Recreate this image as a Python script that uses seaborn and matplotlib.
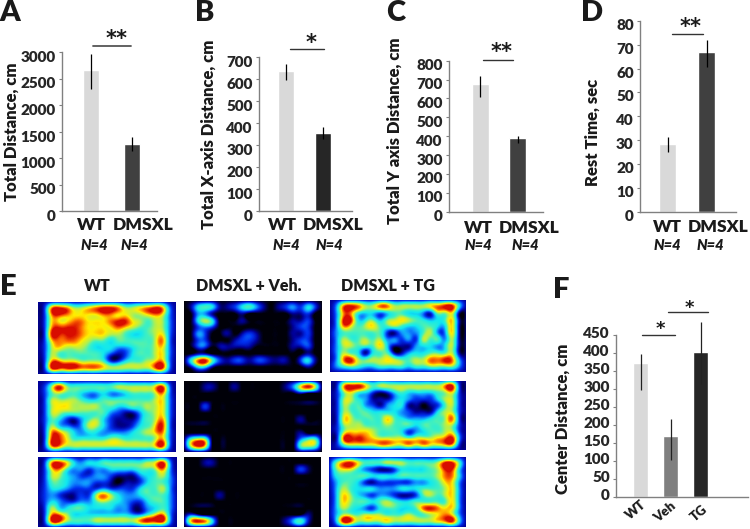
import numpy as np
import pandas as pd
import matplotlib.pyplot as plt
import seaborn as sns
from matplotlib.colors import LinearSegmentedColormap
from matplotlib.lines import Line2D
from matplotlib.transforms import ScaledTranslation

W, H = 750, 529
FONT = ['Lato', 'DejaVu Sans']

# bar panels: means and error ends
groups = ['WT', 'DMSXL']
groups_f = ['WT', 'Veh', 'TG']

total_mean = [2660, 1270]
total_low = [2296, 1130]
total_high = [2957, 1400]
total_ticks = [0, 500, 1000, 1500, 2000, 2500, 3000]

xaxis_mean = [635, 352]
xaxis_low = [594, 325]
xaxis_high = [667, 380]
xaxis_ticks = [0, 100, 200, 300, 400, 500, 600, 700]

yaxis_mean = [677, 389]
yaxis_low = [606, 366]
yaxis_high = [719, 403]
yaxis_ticks = [0, 100, 200, 300, 400, 500, 600, 700, 800]

rest_mean = [28.3, 67]
rest_low = [25, 60.8]
rest_high = [31.2, 72]
rest_ticks = [0, 10, 20, 30, 40, 50, 60, 70, 80]

center_mean = [372, 169, 404]
center_low = [297, 102, 314]
center_high = [396, 217, 485]
center_ticks = [0, 50, 100, 150, 200, 250, 300, 350, 400, 450]

# heat maps: activity level 0-9 per arena cell, read by eye
wt_1 = ['289866789986678983', '289877778877667873', '277788777899765663', '289998777787655663', '299998777665445673',
        '278887655455555683', '267666544433455673', '265555554212455673', '288776665224556783', '299998887666666893']
wt_2 = ['269655555566666793', '256554334334555683', '266665445555555673', '267766665544556673', '266555555321135673',
        '254213564211135683', '264323664211245793', '288643443333456783', '299755555665555683', '288666666666666793']
wt_3 = ['289743445555556793', '278533233444455683', '266432233211134563', '255433322101124553', '244322223222245563',
        '232112268643345553', '243223356543224553', '264455444433113453', '288644444444335783', '299655566666689993']
veh_1 = ['145411245310123242', '033100010000001120', '046400010000001120', '023200000000001220', '032001012100001120',
         '022000122100001220', '022011111000001120', '011000000000000010', '489521221221110241', '144100000000000010']
veh_2 = ['001100100000013796', '000000000000000100', '000000000000000000', '002000000000000000', '000000000000000000',
         '000000000000000100', '000000000000000000', '000000000000000100', '576000000000000355', '697000000000000565']
veh_3 = ['001100000000000000', '000000000000000210', '000000000000000000', '000000000000000000', '000000000000000000',
         '000010000000000000', '000000000000000000', '000000000000000000', '210000000000000010', '798400000000013520']
tg_1 = ['389866886666678994', '388544345544326671', '399445356765434571', '387567556544554471', '355555521333563371',
        '365565633232655361', '366555741113443461', '365414551134455561', '389656676556688983', '356544555545566663']
tg_2 = ['289975666666666892', '267542124544445672', '266431113432224662', '265532134411012562', '265554444321114662',
        '276555575433345682', '266655565554555662', '267776555423455662', '299987666656667893', '267777887787877882']
tg_3 = ['589755566655556995', '577532112444456994', '455554444555556884', '355421222223345773', '365444333444555673',
        '376432332112565673', '376554565445555573', '365432455445898773', '366566655565567873', '399666676666667894']
heat_maps = [wt_1, veh_1, tg_1, wt_2, veh_2, tg_2, wt_3, veh_3, tg_3]
heat_titles = ['WT', 'DMSXL + Veh.', 'DMSXL + TG']

sns.set_style('white')
plt.rcParams['font.family'] = FONT
plt.rcParams['font.weight'] = 'heavy'
plt.rcParams['text.color'] = '#1a1a1a'

fig = plt.figure(figsize=(W / 100, H / 100), dpi=100)
heat_cmap = LinearSegmentedColormap.from_list(
    'arena', ['#000008', '#00009a', '#0030f0', '#1090ff', '#10e8f0', '#40f0c0', '#b0f050', '#ffee00', '#ff7000', '#d80c00'])


def px_axes(left, top, right, bottom):
    return fig.add_axes([left / W, 1 - bottom / H, (right - left) / W, (bottom - top) / H])


def put(x, y, s, **kw):
    kw.setdefault('ha', 'center')
    kw.setdefault('va', 'center')
    fig.text(x / W, 1 - y / H, s, **kw)


def bracket(x0, x1, y, stars, sx, sy, color='#333333', lw=1.0, size=15):
    fig.add_artist(Line2D([x0 / W, x1 / W], [1 - y / H, 1 - y / H], color=color, lw=lw))
    put(sx, sy, stars, family='DejaVu Sans', fontsize=size, fontweight='bold')


def bar_panel(box, cats, mean, low, high, ticks, colors, first_px, step_px, bar_px, ylabel, ylabel_x, ylabel_y,
              label_dy, err_color='black'):
    left, top, right, bottom = box
    ax = px_axes(left, top, right, bottom)
    df = pd.DataFrame({'group': cats, 'value': mean})
    sns.barplot(data=df, x='group', y='value', hue='group', palette=colors, legend=False,
                width=bar_px / step_px, saturation=1, ax=ax)
    ax.set_xlim((left - first_px) / step_px, (right - first_px) / step_px)
    ax.set_ylim(ticks[0], ticks[-1])
    ax.vlines(range(len(cats)), low, high, color=err_color, lw=0.9, clip_on=False, zorder=5)
    ax.set_yticks(ticks)
    ax.set_xticks([])
    ax.set_xlabel('')
    ax.set_ylabel('')
    ax.tick_params(axis='y', left=True, length=2.5, width=0.8, color='#808080', pad=2, labelsize=11)
    for lab in ax.get_yticklabels():
        lab.set_transform(lab.get_transform() + ScaledTranslation(0, -label_dy / 100, fig.dpi_scale_trans))
    sns.despine(ax=ax)
    for side in ['left', 'bottom']:
        ax.spines[side].set_color('#808080')
        ax.spines[side].set_linewidth(1.0)
    put(ylabel_x, ylabel_y, ylabel, rotation=90, fontsize=12)
    return ax


# panels A-D
bar_panel((62, 52, 157, 211), groups, total_mean, total_low, total_high, total_ticks, ['#d9d9d9', '#404040'],
          91, 41, 16.5, 'Total Distance, cm', 12, 132, 4.5)
bar_panel((259, 56.7, 352, 211), groups, xaxis_mean, xaxis_low, xaxis_high, xaxis_ticks, ['#d9d9d9', '#262626'],
          286, 36.5, 16, 'Total X-axis Distance, cm', 209, 134, 4.5)
bar_panel((449, 60.7, 542.7, 211.7), groups, yaxis_mean, yaxis_low, yaxis_high, yaxis_ticks, ['#d9d9d9', '#404040'],
          480, 37.5, 17, 'Total Y axis Distance, cm', 395, 131, 4)
bar_panel((640, 20.7, 735.7, 212), groups, rest_mean, rest_low, rest_high, rest_ticks, ['#d9d9d9', '#404040'],
          667.5, 39, 16.5, 'Rest Time, sec', 593, 132, 3.5)

bracket(93, 131, 45.7, '**', 117, 39, color='#555555', lw=1.3)
bracket(290, 324, 49.3, '*', 311, 43)
bracket(483, 513, 60.3, '**', 502, 52)
bracket(672, 703, 33.7, '**', 691, 27)

# group names under the bars
name_rows = [(91, 143, 225, 94, 134), (282, 333, 225, 286, 329), (478, 529, 228, 478, 525), (667, 718, 227, 667, 710)]
for wt_x, dm_x, name_y, n1_x, n2_x in name_rows:
    put(wt_x, name_y, groups[0], fontsize=12.5)
    put(dm_x, name_y, groups[1], fontsize=12.5)
    put(n1_x, 246, 'N=4', fontsize=10.5, style='italic')
    put(n2_x, 246, 'N=4', fontsize=10.5, style='italic')

# panel letters
for letter, x, y in [('A', 10, 13), ('B', 205, 13), ('C', 396, 13), ('D', 592, 13), ('E', 8, 287), ('F', 561, 290)]:
    put(x, y, letter, fontsize=21)

# panel E
heat_boxes = [(38, 302, 176, 374), (184, 301, 322, 373), (330, 300, 466, 372),
              (38, 381, 176, 452), (184, 381, 322, 452), (331, 381, 466, 450),
              (38, 457, 177, 527), (184, 457, 321, 527), (329, 457, 466, 527)]
for box, rows in zip(heat_boxes, heat_maps):
    ax = px_axes(*box)
    grid = np.array([[int(c) for c in r] for r in rows])
    # dark rim of the arena around the read cells, black on the quiet maps
    grid = np.pad(grid, 1, constant_values=1 if grid.mean() > 2 else 0)
    ax.imshow(grid, cmap=heat_cmap, vmin=0, vmax=9, aspect='auto', interpolation='lanczos')
    ax.set_xlim(0.1, grid.shape[1] - 1.1)
    ax.set_ylim(grid.shape[0] - 1.1, 0.1)
    ax.set_axis_off()
for x, title in zip([97, 249, 388], heat_titles):
    put(x, 286, title, fontsize=11.5)

# panel F
bar_panel((616, 335, 748, 497), groups_f, center_mean, center_low, center_high, center_ticks,
          ['#d9d9d9', '#7f7f7f', '#262626'], 640.5, 30, 14.5, 'Center Distance, cm', 563, 419, -2, err_color='#222222')
bracket(642, 675, 335.3, '*', 660, 329, size=13)
bracket(668, 708, 312, '*', 689, 308, size=13)
for x, y, name in zip([636, 665, 699], [510, 512, 513], groups_f):
    put(x, y, name, fontsize=9.5, rotation=40)

fig.savefig('out.png', dpi=100)
